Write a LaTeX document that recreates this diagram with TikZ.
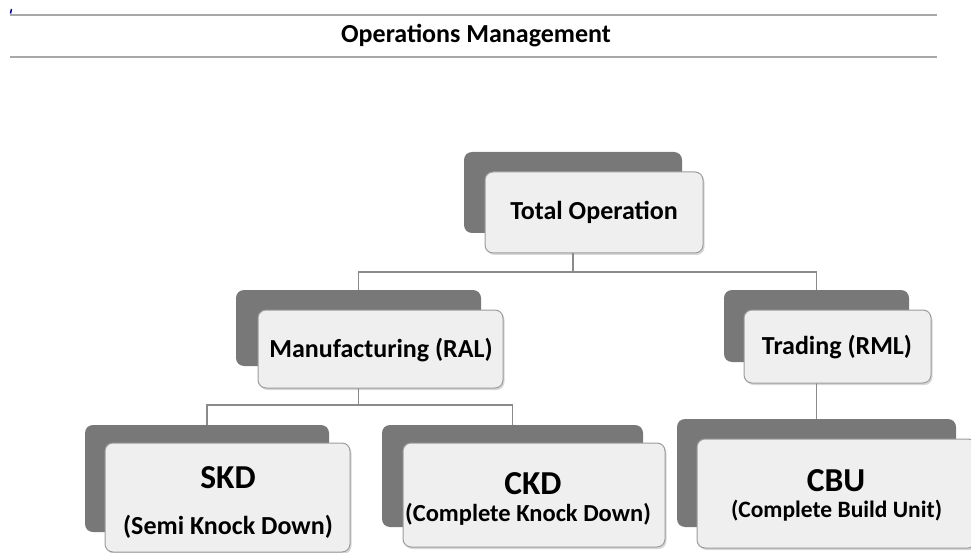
\documentclass[tikz,border=0pt]{standalone}
\usepackage{fontspec}
\setmainfont{Carlito}
\usetikzlibrary{shadows}
\definecolor{backgray}{HTML}{787878}
\definecolor{frontfill}{HTML}{EFEFEF}
\definecolor{frontline}{HTML}{9C9C9C}
\definecolor{linkgray}{HTML}{8A8A8A}
\definecolor{rulegray}{HTML}{A8A8A8}
\tikzset{
  backbox/.style={fill=backgray, draw=none, rounded corners=8pt, inner sep=0pt},
  frontbox/.style={fill=frontfill, draw=frontline, line width=1pt, rounded corners=8pt, inner sep=0pt,
    align=center, font=\bfseries,
    drop shadow={opacity=0.3, shadow xshift=1.5pt, shadow yshift=-2pt}},
  boxtext/.style={inner sep=0pt, font=\fontsize{26}{30}\selectfont\bfseries},
  bigtext/.style={inner sep=0pt, font=\fontsize{33.5}{38}\selectfont\bfseries},
  link/.style={draw=linkgray, line width=1.1pt},
  rulebar/.style={draw=rulegray, line width=2pt},
}
\begin{document}
\begin{tikzpicture}[x=1pt,y=-1pt]
\useasboundingbox (0,0) rectangle (971,553);
\fill[white] (0,0) rectangle (971,553);
% header
\draw[color=blue!55!black, line width=1.5pt] (11.5,9) -- (10.5,13.5);
\coordinate (r1a) at (10,15); \coordinate (r1b) at (937,15);
\coordinate (r2a) at (10,57); \coordinate (r2b) at (937,57);
\draw[rulebar] (r1a) -- (r1b);
\draw[rulebar] (r2a) -- (r2b);
\node[font=\fontsize{26}{30}\selectfont\bfseries] (title) at (476,36) {Operations Management};
% back boxes
\node[backbox, minimum width=218pt, minimum height=81pt] (totD) at (573,192.5) {};
\node[backbox, minimum width=245pt, minimum height=76pt] (manD) at (358.5,328) {};
\node[backbox, minimum width=185pt, minimum height=72pt] (traD) at (816.5,326) {};
\node[backbox, minimum width=244pt, minimum height=107pt] (skdD) at (207,478.5) {};
\node[backbox, minimum width=261pt, minimum height=102pt] (ckdD) at (512.5,476) {};
\node[backbox, minimum width=279pt, minimum height=108pt] (cbuD) at (816.5,473) {};
% connectors
\coordinate (j1) at (573,272);
\coordinate (j2) at (358.5,405);
\draw[link] (totD.south) -- (j1);
\draw[link] (j1) -| (manD.north);
\draw[link] (j1) -| (traD.north);
\draw[link] (manD.south) -- (j2);
\draw[link] (j2) -| (skdD.north);
\draw[link] (j2) -| (ckdD.north);
\draw[link] (traD.south) -- (cbuD.north);
% front boxes
\node[frontbox, minimum width=218pt, minimum height=81pt] (tot) at (594,212.5) {};
\node[frontbox, minimum width=245pt, minimum height=78pt] (man) at (380.5,349) {};
\node[frontbox, minimum width=187pt, minimum height=73pt] (tra) at (837.5,346.5) {};
\node[frontbox, minimum width=245pt, minimum height=109pt] (skd) at (227.5,497.5) {};
\node[frontbox, minimum width=262pt, minimum height=104pt] (ckd) at (534,495) {};
\node[frontbox, minimum width=279pt, minimum height=109pt] (cbu) at (836.5,493.5) {};
% texts
\node[boxtext] (totT) at (594,212) {Total Operation};
\node[boxtext] (manT) at (381,350) {Manufacturing (RAL)};
\node[boxtext] (traT) at (837,347) {Trading (RML)};
\node[bigtext] (skdT) at (228,478) {SKD};
\node[boxtext] (skdS) at (228,527) {(Semi Knock Down)};
\node[bigtext] (ckdT) at (533,484) {CKD};
\node[boxtext, font=\fontsize{24.5}{28}\selectfont\bfseries] (ckdS) at (528,514) {(Complete Knock Down)};
\node[bigtext] (cbuT) at (836,481) {CBU};
\node[boxtext, font=\fontsize{23.5}{28}\selectfont\bfseries] (cbuS) at (836.5,511) {(Complete Build Unit)};
\end{tikzpicture}
\end{document}
